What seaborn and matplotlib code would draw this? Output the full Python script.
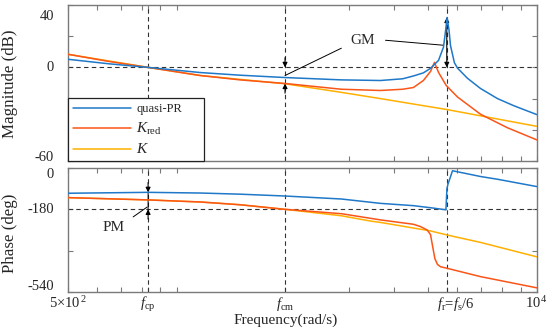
import matplotlib
matplotlib.use('Agg')
import matplotlib.pyplot as plt
import matplotlib.transforms as mtransforms
from matplotlib.lines import Line2D
from matplotlib.ticker import FixedLocator, NullFormatter
import seaborn as sns

# ---------------- data ----------------
f_cp = 834.0
f_cm = 2000.0
f_r = 5620.0

# magnitude (dB)
f_pr_mag = [500, 650, 834, 1164, 1500, 2000, 2866, 3678, 4240, 4541, 4840, 5065,
            5331, 5503, 5580, 5630, 5700, 5755, 5900, 6020, 6416, 6969, 7770, 8610, 10000]
m_pr = [5.2, 2.3, 0.0, -3.3, -5.0, -6.5, -8.0, -8.4, -7.3, -5.5, -3.5, -0.6,
        4.5, 13.0, 24.0, 32.0, 24.0, 14.0, 3.0, -0.5, -7.0, -13.5, -20.0, -24.5, -30.3]

f_red_mag = [500, 650, 834, 1164, 1500, 2000, 2866, 3678, 4240, 4541, 4840, 5065,
             5195, 5331, 5600, 6020, 6969, 8280, 10000]
m_red = [8.4, 3.8, 0.0, -5.2, -8.0, -10.3, -14.0, -14.8, -14.0, -12.9, -8.4, -2.6,
         3.2, -3.2, -11.6, -19.0, -30.0, -38.7, -46.5]

f_k_mag = [500, 834, 1164, 2000, 2866, 3678, 5620, 10000]
m_k = [8.4, 0.0, -5.2, -10.5, -16.0, -20.0, -27.0, -37.8]

# phase (deg)
f_pr_ph = [500, 834, 1164, 1500, 2000, 2866, 3678, 4541, 5065, 5590, 5625, 5663,
           5830, 6969, 7770, 10000]
p_pr = [-110, -106, -109, -114, -122, -135, -154, -164, -173, -182, -90, -70,
        -12, -37, -49, -81]

f_red_ph = [500, 834, 1164, 1500, 2000, 2866, 3450, 3678, 4541, 4750, 4958, 5065,
            5146, 5209, 5296, 5400, 5640, 6969, 10000]
p_red = [-129, -139, -148, -160, -180, -199, -219, -226, -245, -255, -270, -290,
         -350, -395, -420, -430, -437, -473, -522]

f_k_ph = [500, 834, 1164, 1500, 2000, 2866, 3450, 3678, 5065, 5640, 6969, 10000]
p_k = [-129, -139, -148, -160, -180, -208, -231, -237, -274, -292, -324, -387]

series_labels = ['quasi-PR', r'$K_{\mathrm{red}}$', r'$K$']
c_pr = '#1f78c8'
c_red = '#fa5519'
c_k = '#ffb000'

# ---------------- style ----------------
sns.set_style('ticks')
plt.rcParams['font.family'] = ['Liberation Serif', 'DejaVu Serif']
plt.rcParams['mathtext.fontset'] = 'custom'
plt.rcParams['mathtext.rm'] = 'Liberation Serif'
plt.rcParams['mathtext.it'] = 'Liberation Serif:italic'
plt.rcParams['mathtext.bf'] = 'Liberation Serif:bold'

W, H = 550, 331
fig = plt.figure(figsize=(W / 100, H / 100), dpi=100)
ax1 = fig.add_axes([68 / W, 1 - 161 / H, 469 / W, 156 / H])
ax2 = fig.add_axes([68 / W, 1 - 292 / H, 469 / W, 124 / H])

spine_c = '#7a7a7a'
dash_c = '#333333'
for ax in (ax1, ax2):
    ax.set_xscale('log')
    ax.set_xlim(500, 10000)
    for s in ax.spines.values():
        s.set_color(spine_c)
        s.set_linewidth(1.0)
    ax.tick_params(which='both', direction='in', top=True, right=True,
                   length=3.5, width=0.8, color=spine_c, labelleft=False,
                   labelbottom=False)
    ax.xaxis.set_major_locator(FixedLocator([500, f_cp, f_cm, f_r, 10000]))
    ax.xaxis.set_minor_locator(FixedLocator([600, 700, 800, 900, 1000, 3000, 4000,
                                             5000, 6000, 7000, 8000, 9000]))
    ax.xaxis.set_minor_formatter(NullFormatter())
    for fv in (f_cp, f_cm, f_r):
        ax.axvline(fv, color=dash_c, lw=0.8, ls=(0, (4, 3)), zorder=1)

ax1.set_ylim(-60, 40)
ax1.set_yticks([40, 20, 0, -20, -40, -60])
ax2.set_ylim(-540, 0)
ax2.set_yticks([0, -180, -360, -540])
ax1.axhline(0, color=dash_c, lw=0.8, ls=(0, (4, 3)), zorder=1)
ax2.axhline(-180, color=dash_c, lw=0.8, ls=(0, (4, 3)), zorder=1)

lw = 1.1
kw = dict(estimator=None, sort=False, lw=lw, legend=False)
sns.lineplot(x=f_k_mag, y=m_k, ax=ax1, color=c_k, zorder=3, **kw)
sns.lineplot(x=f_red_mag, y=m_red, ax=ax1, color=c_red, zorder=4, **kw)
sns.lineplot(x=f_pr_mag, y=m_pr, ax=ax1, color=c_pr, zorder=5, **kw)
sns.lineplot(x=f_k_ph, y=p_k, ax=ax2, color=c_k, zorder=3, **kw)
sns.lineplot(x=f_red_ph, y=p_red, ax=ax2, color=c_red, zorder=4, **kw)
sns.lineplot(x=f_pr_ph, y=p_pr, ax=ax2, color=c_pr, zorder=5, **kw)
for ax in (ax1, ax2):
    ax.set_xlabel('')
    ax.set_ylabel('')

# ---------------- tick labels (manual, MATLAB-like placement) ----------------
fs_tick = 10.5
px = 0.72  # points per pixel


def ylab(ax, val, txt, dy_px):
    tr = mtransforms.blended_transform_factory(ax.transAxes, ax.transData)
    ax.annotate(txt, xy=(0, val), xycoords=tr, xytext=(-14 * px, -dy_px * px),
                textcoords='offset points', ha='right', va='center', fontsize=fs_tick)


ylab(ax1, 40, '40', 11)
ylab(ax1, 0, '0', 0)
ylab(ax1, -60, '-60', -4)
ylab(ax2, 0, '0', 7)
ylab(ax2, -180, '-180', 0)
ylab(ax2, -540, '-540', -5)

trx = mtransforms.blended_transform_factory(ax2.transData, ax2.transAxes)
xlabels = [(500, r'5$\times$10$^{\,2}$', 0), (f_cp, r'$f_{\mathrm{cp}}$', 0),
           (f_cm, r'$f_{\mathrm{cm}}$', 0), (f_r, r'$f_{\mathrm{r}}$=$f_{\mathrm{s}}$/6', 9),
           (10000, r'10$^{\,4}$', 0)]
for xv, txt, dx in xlabels:
    ax2.annotate(txt, xy=(xv, 0), xycoords=trx, xytext=(dx * px, -16 * px),
                 textcoords='offset points', ha='center', va='baseline', fontsize=fs_tick)

fig.text(286 / W, 1 - 320 / H, 'Frequency(rad/s)', ha='center', va='center', fontsize=11)
fig.text(10.5 / W, 1 - 84 / H, 'Magnitude (dB)', rotation=90, ha='center', va='center',
         fontsize=12.2)
fig.text(10.5 / W, 1 - 233 / H, 'Phase (deg)', rotation=90, ha='center', va='center',
         fontsize=12.2)

# ---------------- annotations ----------------
ahead = dict(arrowstyle='-|>', color='k', lw=0.8, mutation_scale=7, shrinkA=0, shrinkB=0)
# GM at f_cm
ax1.annotate('', xy=(f_cm, 0), xytext=(0, 7), textcoords='offset points', arrowprops=ahead)
ax1.annotate('', xy=(f_cm, -10.3), xytext=(0, -7), textcoords='offset points', arrowprops=ahead)
# GM at f_r
ax1.annotate('', xy=(f_r, 32), xytext=(f_r, 0),
             arrowprops=dict(arrowstyle='<|-|>', color='k', lw=0.8, mutation_scale=7,
                             shrinkA=0, shrinkB=0))
ax1.text(3278, 17.4, 'GM', ha='center', va='center', fontsize=11)
lead = dict(arrowstyle='-', color='k', lw=0.7, shrinkA=0, shrinkB=0)
ax1.annotate('', xy=(f_cm, -5.2), xytext=(2866, 12.3), arrowprops=lead)
ax1.annotate('', xy=(5503, 14.2), xytext=(3800, 17.4), arrowprops=lead)
# PM at f_cp
ax2.annotate('', xy=(f_cp, -106), xytext=(0, 7), textcoords='offset points', arrowprops=ahead)
ax2.annotate('', xy=(f_cp, -180), xytext=(0, -7), textcoords='offset points', arrowprops=ahead)
ax2.annotate('', xy=(f_cp, -106), xytext=(f_cp, -180), arrowprops=lead)
ax2.text(667, -257, 'PM', ha='center', va='center', fontsize=11)
ax2.annotate('', xy=(829, -170), xytext=(758, -213), arrowprops=lead)

# ---------------- legend ----------------
handles = [Line2D([], [], color=c, lw=lw) for c in (c_pr, c_red, c_k)]
leg = ax1.legend(handles, series_labels, loc='lower left',
                 bbox_to_anchor=(0, 0, 136 / 469, 0.4), mode='expand', borderaxespad=0,
                 fontsize=9, handlelength=4.6, handletextpad=0.45, labelspacing=0.42,
                 borderpad=0.4, fancybox=False, framealpha=1, edgecolor='#222222')
leg.get_frame().set_linewidth(0.9)
leg.set_zorder(10)
for t in leg.get_texts()[1:]:
    t.set_fontsize(11)

fig.savefig('out.png', dpi=100)
